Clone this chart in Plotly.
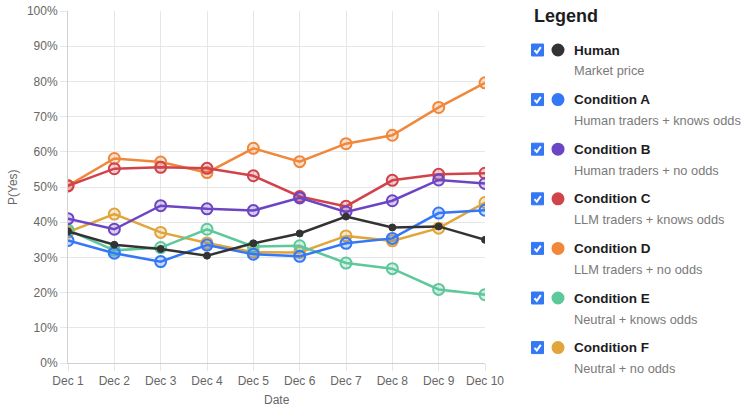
import plotly.graph_objects as go

dates = ["Dec 1", "Dec 2", "Dec 3", "Dec 4", "Dec 5", "Dec 6", "Dec 7", "Dec 8", "Dec 9", "Dec 10"]

human = [37.4, 33.6, 32.4, 30.5, 34.0, 36.8, 41.6, 38.5, 38.8, 35.0]
cond_a = [34.8, 31.2, 28.8, 33.5, 30.9, 30.3, 34.0, 35.4, 42.6, 43.4]
cond_b = [41.0, 38.0, 44.7, 43.8, 43.3, 46.9, 42.9, 46.1, 52.0, 51.0]
cond_c = [50.3, 55.2, 55.6, 55.3, 53.2, 47.3, 44.5, 51.9, 53.6, 53.9]
cond_d = [50.4, 58.1, 57.1, 54.1, 61.0, 57.2, 62.3, 64.7, 72.6, 79.6]
cond_e = [37.8, 32.0, 32.8, 38.0, 33.1, 33.3, 28.4, 26.8, 20.9, 19.4]
cond_f = [37.2, 42.3, 37.1, 34.1, 31.5, 31.4, 36.1, 34.7, 38.3, 45.6]

names = ["Human", "Condition A", "Condition B", "Condition C", "Condition D", "Condition E", "Condition F"]
descs = ["Market price", "Human traders + knows odds", "Human traders + no odds",
         "LLM traders + knows odds", "LLM traders + no odds", "Neutral + knows odds", "Neutral + no odds"]
series = [human, cond_a, cond_b, cond_c, cond_d, cond_e, cond_f]
colors = ["#333333", "#3478f6", "#6c45c4", "#d0434b", "#f0873a", "#5cc89b", "#e0a53b"]
fills = ["#333333", "rgba(52,120,246,0.25)", "rgba(108,69,196,0.25)", "rgba(208,67,75,0.25)",
         "rgba(240,135,58,0.25)", "rgba(92,200,155,0.25)", "rgba(224,165,59,0.25)"]

W, H = 747, 406
L, T = 68, 11
R = W - 485
B = H - 363
PW, PH = W - L - R, H - T - B

def px(x):
    return (x - L) / PW

def py(y):
    return (H - B - y) / PH

fig = go.Figure()
for i in reversed(range(len(series))):
    if i == 0:
        marker = dict(size=7, color=colors[i], line=dict(width=1, color=colors[i]))
    else:
        marker = dict(size=11, color=fills[i], line=dict(width=2, color=colors[i]))
    fig.add_trace(go.Scatter(x=dates, y=series[i], mode="lines+markers", name=names[i],
                             line=dict(color=colors[i], width=2.5), marker=marker,
                             showlegend=False))

shapes = []
annotations = []
annotations.append(dict(text="<b>Legend</b>", x=px(532), y=py(16), xref="paper", yref="paper",
                        xanchor="left", yanchor="middle", showarrow=False,
                        font=dict(size=18, color="#1d1d1f", family="Liberation Sans")))
annotations.append(dict(text="Date", x=0.5, y=py(400), xref="paper", yref="paper",
                        xanchor="center", yanchor="middle", showarrow=False,
                        font=dict(size=12, color="#666666", family="Liberation Sans")))
annotations.append(dict(text="P(Yes)", x=px(13), y=0.5, xref="paper", yref="paper", textangle=-90,
                        xanchor="center", yanchor="middle", showarrow=False,
                        font=dict(size=12, color="#666666", family="Liberation Sans")))
row0 = 50
step = 49.6
for i, (n, d) in enumerate(zip(names, descs)):
    cy = row0 + i * step
    # checkbox
    shapes.append(dict(type="rect", xref="paper", yref="paper",
                       x0=px(531.5), x1=px(543.5), y0=py(cy - 6), y1=py(cy + 6),
                       fillcolor="#3478f6", line=dict(color="#3478f6", width=1)))
    shapes.append(dict(type="path", xref="paper", yref="paper",
                       path="M {} {} L {} {} L {} {}".format(px(534.5), py(cy + 0.3), px(536.8), py(cy + 2.8),
                                                               px(540.8), py(cy - 2.8)),
                       line=dict(color="white", width=2)))
    # dot
    shapes.append(dict(type="circle", xref="paper", yref="paper",
                       x0=px(551.5), x1=px(564.5), y0=py(cy - 6.5), y1=py(cy + 6.5),
                       fillcolor=colors[i], line=dict(color=colors[i], width=0)))
    annotations.append(dict(text="<b>" + n + "</b>", x=px(572), y=py(cy), xref="paper", yref="paper",
                            xanchor="left", yanchor="middle", showarrow=False,
                            font=dict(size=13.5, color="#1d1d1f", family="Liberation Sans")))
    annotations.append(dict(text=d, x=px(572), y=py(cy + 21), xref="paper", yref="paper",
                            xanchor="left", yanchor="middle", showarrow=False,
                            font=dict(size=12.8, color="#7a7a7a", family="Liberation Sans")))

fig.update_layout(
    width=W, height=H,
    margin=dict(l=L, r=R, t=T, b=B, autoexpand=False),
    paper_bgcolor="white", plot_bgcolor="white",
    font=dict(family="Liberation Sans", size=12, color="#666666"),
    shapes=shapes, annotations=annotations,
    xaxis=dict(type="category", range=[0, 9], showgrid=True, gridcolor="#e6e6e6", gridwidth=1,
               showline=True, linecolor="#d0d0d0", ticks="outside", ticklen=7, tickcolor="#e6e6e6",
               automargin=False, tickfont=dict(size=12, color="#666666"), zeroline=False),
    yaxis=dict(range=[0, 100], dtick=10, ticksuffix="%", showgrid=True, gridcolor="#e6e6e6", gridwidth=1,
               showline=True, linecolor="#d0d0d0", ticks="outside", ticklen=7, tickcolor="#e6e6e6",
               automargin=False, tickfont=dict(size=12, color="#666666"), zeroline=False),
)

fig.write_html("out.html", config={"displayModeBar": False},
               post_script="document.body.style.margin='0';document.body.style.overflow='hidden';")
